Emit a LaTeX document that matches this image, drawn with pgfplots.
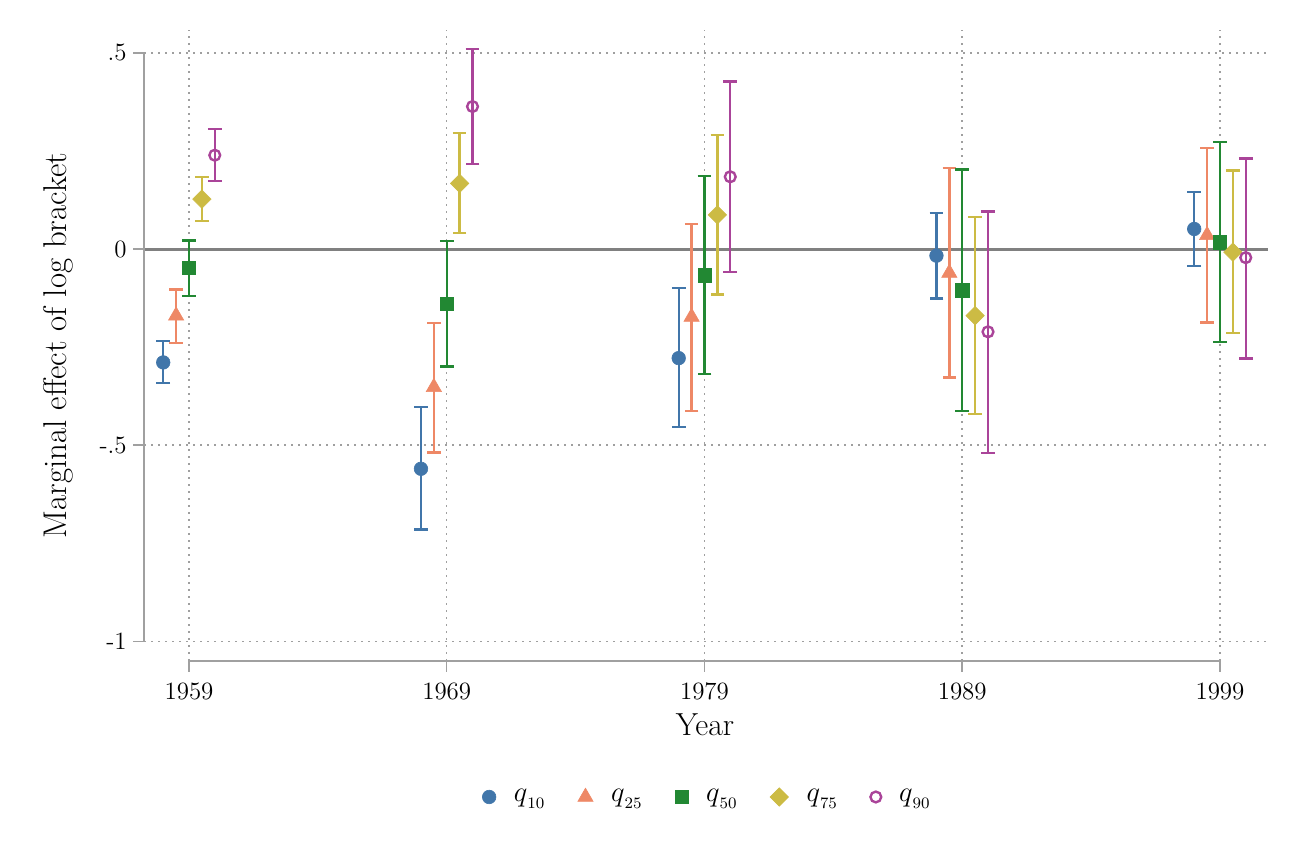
\documentclass[border=0pt]{standalone}
\usepackage{fontspec}
\usepackage{pgfplots}
\pgfplotsset{compat=1.18}
\usepackage{pgfplotstable}
\definecolor{c1}{HTML}{4176AA}
\definecolor{c2}{HTML}{EE8866}
\definecolor{c3}{HTML}{228833}
\definecolor{c4}{HTML}{CCBB44}
\definecolor{c5}{HTML}{AA4499}
\definecolor{axgray}{HTML}{A0A0A0}
\definecolor{zgray}{HTML}{808080}

% x  y  ep  em   (ep = upper - y, em = y - lower)
\pgfplotstableread{
x      y       ep     em
1958  -0.289  0.054  0.053
1968  -0.560  0.157  0.155
1978  -0.278  0.178  0.176
1988  -0.017  0.108  0.109
1998   0.051  0.094  0.094
}\qten
\pgfplotstableread{
x      y       ep     em
1958.5 -0.170  0.067  0.069
1968.5 -0.352  0.163  0.166
1978.5 -0.173  0.237  0.240
1988.5 -0.061  0.267  0.266
1998.5  0.035  0.222  0.222
}\qtwentyfive
\pgfplotstableread{
x      y       ep     em
1959  -0.048  0.070  0.071
1969  -0.139  0.160  0.160
1979  -0.067  0.253  0.252
1989  -0.105  0.308  0.308
1999   0.017  0.255  0.254
}\qfifty
\pgfplotstableread{
x      y       ep     em
1959.5  0.127  0.056  0.056
1969.5  0.167  0.128  0.126
1979.5  0.087  0.203  0.203
1989.5 -0.170  0.251  0.250
1999.5 -0.008  0.208  0.206
}\qseventyfive
\pgfplotstableread{
x      y       ep     em
1960    0.239  0.066  0.066
1970    0.363  0.146  0.146
1980    0.184  0.243  0.242
1990   -0.211  0.307  0.308
2000   -0.022  0.253  0.257
}\qninety

\newcommand{\qlab}[1]{$q$\raisebox{-3.2bp}{\fontsize{8}{9}\selectfont #1}}

\pgfplotsset{
  qerr/.style={
    error bars/.cd,
      y dir=both, y explicit,
      error bar style={line width=1.2bp},
      error mark options={rotate=90, line width=1.2bp, mark size=3.4bp},
  },
}

\begin{document}
\begin{tikzpicture}
\useasboundingbox (0,0) rectangle (648bp,432.5bp);
\begin{axis}[
  at={(72bp,102bp)}, anchor=south west,
  scale only axis, width=562bp, height=315.5bp,
  xmin=1957.254, xmax=2000.864,
  ymin=-1.0497, ymax=0.558,
  clip=false,
  axis line style={draw=none},
  tick pos=left, tick align=outside,
  major tick length=5.5bp,
  tick style={axgray, line width=0.75bp},
  xtick={1959,1969,1979,1989,1999},
  xticklabels={1959,1969,1979,1989,1999},
  ytick={-1,-0.5,0,0.5},
  yticklabels={-1,-.5,0,.5},
  xticklabel style={font=\fontsize{12.5}{14}\selectfont, inner sep=0pt, anchor=base, yshift=-14bp},
  yticklabel style={font=\fontsize{12.5}{14}\selectfont, inner sep=0pt, anchor=east, xshift=-3bp},
  grid=major,
  major grid style={gray!75, line width=0.75bp, dash pattern=on 0.75bp off 2.75bp},
  legend columns=5,
  legend style={at={(axis description cs:0.5,-0.2155)}, anchor=center,
    draw=none, fill=none, font=\fontsize{14}{16}\selectfont,
    nodes={inner sep=0pt},
    /tikz/every odd column/.append style={column sep=9bp},
    /tikz/every even column/.append style={column sep=16.75bp}},
  legend image code/.code={\draw[#1] plot coordinates {(0bp,0bp)};},
]
\addplot[zgray, line width=1.5bp, forget plot] coordinates {(1957.254,0) (2000.864,0)};
\addplot[only marks, color=c1, line width=1.2bp, mark=*, mark size=3.4bp, mark options={line width=0.3bp},
  qerr]
  table[x=x, y=y, y error plus=ep, y error minus=em] {\qten};
\addlegendentry{\qlab{10}}
\addplot[only marks, color=c2, line width=1.2bp, mark=triangle*, mark size=4.4bp, mark options={line width=0.3bp},
  qerr]
  table[x=x, y=y, y error plus=ep, y error minus=em] {\qtwentyfive};
\addlegendentry{\qlab{25}}
\addplot[only marks, color=c3, line width=1.2bp, mark=square*, mark size=3.3bp, mark options={line width=0.3bp},
  qerr]
  table[x=x, y=y, y error plus=ep, y error minus=em] {\qfifty};
\addlegendentry{\qlab{50}}
\addplot[only marks, color=c4, line width=1.2bp, mark=square*, mark size=3.25bp, mark options={rotate=45, line width=0.3bp},
  qerr]
  table[x=x, y=y, y error plus=ep, y error minus=em] {\qseventyfive};
\addlegendentry{\qlab{75}}
\addplot[only marks, color=c5, line width=1.2bp, mark=o, mark size=2.7bp, mark options={line width=1.2bp},
  qerr]
  table[x=x, y=y, y error plus=ep, y error minus=em] {\qninety};
\addlegendentry{\qlab{90}}
% Stata-style separated axis lines
\draw[axgray, line width=0.75bp] (axis cs:1957.254,-1) -- (axis cs:1957.254,0.5);
\draw[axgray, line width=0.75bp] (axis cs:1959,-1.0497) -- (axis cs:1999,-1.0497);
\end{axis}
\node[rotate=90, anchor=base, font=\fontsize{16.5}{19}\selectfont] at (33bp,259.75bp) {Marginal effect of log bracket};
\node[anchor=base, font=\fontsize{16}{19}\selectfont] at (352.5bp,64.5bp) {Year};
\end{tikzpicture}
\end{document}
